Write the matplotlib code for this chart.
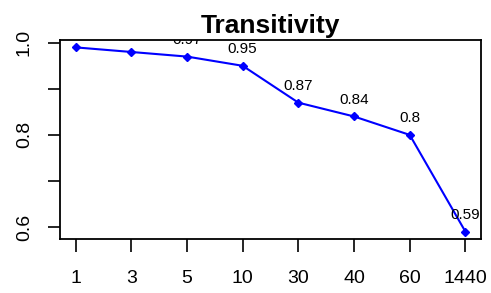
import matplotlib
matplotlib.use("Agg")
import matplotlib.pyplot as plt

# transitivity per time window
windows = ["1", "3", "5", "10", "30", "40", "60", "1440"]
transitivity = [0.99, 0.98, 0.97, 0.95, 0.87, 0.84, 0.8, 0.59]
yticks = [0.6, 0.7, 0.8, 0.9, 1.0]
ytick_labels = ["0.6", "", "0.8", "", "1.0"]

plt.rcParams["font.family"] = ["Liberation Sans", "DejaVu Sans"]

fig = plt.figure(figsize=(4.91, 2.93), dpi=100)
ax = fig.add_axes([60 / 491, 1 - 239 / 293, 421 / 491, 199 / 293])

xs = list(range(1, len(windows) + 1))
ax.plot(xs, transitivity, color="blue", linewidth=1.5, marker="D", markersize=4.5)
for x, v in zip(xs, transitivity):
    ax.annotate(str(v), (x, v), xytext=(0, 7), textcoords="offset points",
                ha="center", va="bottom", fontsize=11, clip_on=True,
                annotation_clip=False)

ax.set_xlim(0.72, 8.28)
ax.set_ylim(0.574, 1.006)
ax.set_xticks(xs)
ax.set_xticklabels(windows)
ax.set_yticks(yticks)
ax.set_yticklabels(ytick_labels, rotation=90, va="center")
ax.tick_params(axis="both", length=9, width=1.2, labelsize=14)
ax.tick_params(axis="x", pad=13)
ax.tick_params(axis="y", pad=10.5)
for s in ax.spines.values():
    s.set_linewidth(1.3)

ax.set_title("Transitivity", fontsize=19, fontweight="bold", pad=5)

fig.savefig("out.png", dpi=100)
